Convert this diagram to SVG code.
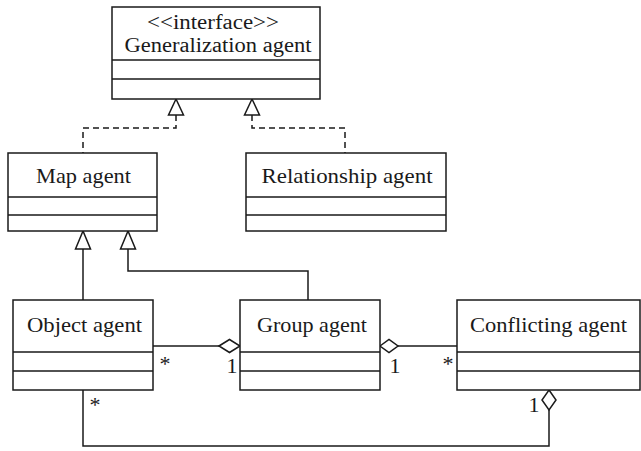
<svg xmlns="http://www.w3.org/2000/svg" width="641" height="451" viewBox="0 0 641 451">
<style>
.box{fill:#fff;stroke:#1a1a1a;stroke-width:1.5}
.ln{fill:none;stroke:#1a1a1a;stroke-width:1.5}
.dash{fill:none;stroke:#1a1a1a;stroke-width:1.5;stroke-dasharray:6 4}
.tri{fill:#fff;stroke:#1a1a1a;stroke-width:1.5}
.dia{fill:#fff;stroke:#1a1a1a;stroke-width:1.5}
text{font-family:"Liberation Serif","Times New Roman",serif;font-size:21px;fill:#1a1a1a}
.t{text-anchor:middle}
.s{font-size:20px}
.m{font-size:22px}
</style>
<rect width="641" height="451" fill="#fff"/>
<g id="connectors">
  <path class="dash" d="M176,115 V128 H83 V153"/>
  <path class="dash" d="M252,115 V128 H345 V153"/>
  <polygon class="tri" points="176,99 168.5,115 183.5,115"/>
  <polygon class="tri" points="252,99 244.5,115 259.5,115"/>
  <path class="ln" d="M83,249 V300"/>
  <path class="ln" d="M128,249 V271 H308 V300"/>
  <polygon class="tri" points="83,231 75.5,249 90.5,249"/>
  <polygon class="tri" points="128,231 120.5,249 135.5,249"/>
  <path class="ln" d="M153,346 H219"/>
  <polygon class="dia" points="219,346 229.5,339.5 240,346 229.5,352.5"/>
  <text class="m" x="165" y="371" text-anchor="middle">*</text>
  <text class="m" x="232" y="373" text-anchor="middle">1</text>
  <path class="ln" d="M398,346 H457"/>
  <polygon class="dia" points="380,346 389,339.5 398,346 389,352.5"/>
  <text class="m" x="395" y="373" text-anchor="middle">1</text>
  <text class="m" x="448" y="371" text-anchor="middle">*</text>
  <path class="ln" d="M83,390 V446 H549 V410"/>
  <polygon class="dia" points="549,390 556,400 549,410 542,400"/>
  <text class="m" x="95" y="412" text-anchor="middle">*</text>
  <text class="m" x="534" y="412" text-anchor="middle">1</text>
</g>
<g id="generalization-agent">
  <rect class="box" x="112" y="7" width="208" height="92"/>
  <path class="ln" d="M112,60 H320 M112,79 H320"/>
  <text class="t s" x="213" y="29" textLength="132" lengthAdjust="spacingAndGlyphs">&lt;&lt;interface&gt;&gt;</text>
  <text class="t s" x="218" y="52" textLength="187" lengthAdjust="spacingAndGlyphs">Generalization agent</text>
</g>
<g id="map-agent">
  <rect class="box" x="8" y="153" width="149" height="78"/>
  <path class="ln" d="M8,197 H157 M8,215 H157"/>
  <text class="t" x="83.5" y="183" textLength="95" lengthAdjust="spacingAndGlyphs">Map agent</text>
</g>
<g id="relationship-agent">
  <rect class="box" x="246" y="153" width="200" height="78"/>
  <path class="ln" d="M246,197 H446 M246,215 H446"/>
  <text class="t" x="347" y="183" textLength="171" lengthAdjust="spacingAndGlyphs">Relationship agent</text>
</g>
<g id="object-agent">
  <rect class="box" x="13" y="300" width="140" height="90"/>
  <path class="ln" d="M13,352 H153 M13,371 H153"/>
  <text class="t" x="84.5" y="332" textLength="115" lengthAdjust="spacingAndGlyphs">Object agent</text>
</g>
<g id="group-agent">
  <rect class="box" x="240" y="300" width="140" height="90"/>
  <path class="ln" d="M240,352 H380 M240,371 H380"/>
  <text class="t" x="312" y="332" textLength="110" lengthAdjust="spacingAndGlyphs">Group agent</text>
</g>
<g id="conflicting-agent">
  <rect class="box" x="457" y="300" width="183" height="90"/>
  <path class="ln" d="M457,352 H640 M457,371 H640"/>
  <text class="t" x="548.5" y="332" textLength="157" lengthAdjust="spacingAndGlyphs">Conflicting agent</text>
</g>
</svg>
